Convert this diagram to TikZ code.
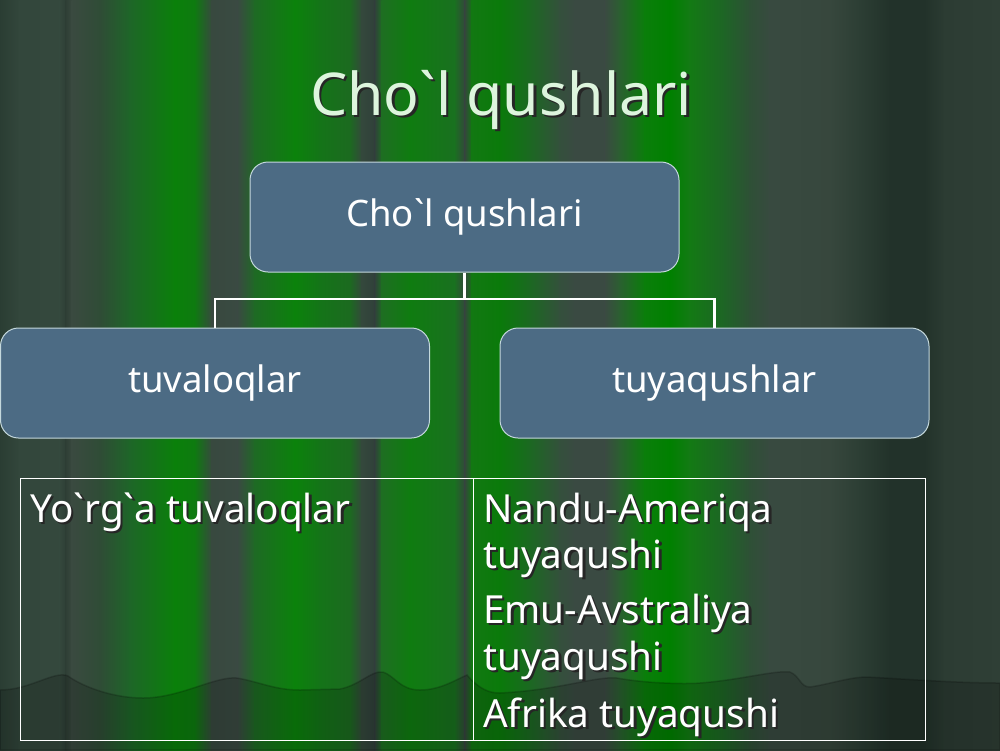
\documentclass[tikz,border=0pt]{standalone}
\usepackage{fontspec}
\setmainfont{Noto Sans}[Ligatures=TeXOff]
\usetikzlibrary{calc}
\definecolor{boxfill}{HTML}{4C6B84}
\definecolor{boxline}{HTML}{C4D8DC}
\definecolor{titlecol}{HTML}{DDF5DD}
\newcommand{\shadowed}[2]{\makebox[0pt][l]{\raisebox{-2.5pt}{\hspace{2.5pt}\textcolor{black!85}{#2}}}\textcolor{#1}{#2}}
\tikzset{
  catbox/.style={draw=boxline, line width=1pt, fill=boxfill, rounded corners=18pt,
    minimum width=429pt, minimum height=110pt, text=white, inner sep=0pt,
    font=\fontsize{36.5}{44}\selectfont},
  conn/.style={draw=white, line width=2.5pt},
  cell/.style={draw=white, line width=1pt},
  celltext/.style={anchor=base west, inner sep=0pt, font=\fontsize{38.7}{46}\selectfont},
  titletext/.style={anchor=base, inner sep=0pt, font=\fontsize{59}{70}\selectfont}
}
\begin{document}
\begin{tikzpicture}[x=1pt,y=-1pt]
\useasboundingbox (0,0) rectangle (1000,750);
% background stripes
\def\stops{0/2A3D33,20/33473C,60/34483D,66/2E3E35,72/3A4A40,100/2F4C36,130/1E6628,175/0A800A,195/0E7A10,212/38493F,238/3A4A42,255/1E6A24,295/0B820B,320/147418,350/1C6A20,362/34483C,375/30403A,382/1E6E22,410/0F7C10,455/1A7020,465/34463C,472/127812,500/0A7A0A,528/1A6A20,560/34503C,575/3A4A42,605/3A4A42,620/2A6030,645/0A7E0A,670/008000,690/137A14,725/1E6426,750/2E5036,770/384A40,830/37473D,860/2C3E34,890/22322A,925/22322A,945/2C3C33,1000/2F3F36}
\foreach \xa/\ca [remember=\xa as \xp (initially 0), remember=\ca as \cp (initially 2A3D33)] in \stops {
  \definecolor{cL}{HTML}{\cp}\definecolor{cR}{HTML}{\ca}
  \ifdim\xa pt>\xp pt
    \shade[left color=cL, right color=cR] (\xp-0.5,0) rectangle (\xa+0.5,750);
  \fi
}
% curtain bottom wave
\path[fill=black, fill opacity=0.17, draw=black, draw opacity=0.18, line width=1.5pt]
  (0,690) .. controls (30,690) and (55,670) .. (68,676)
  .. controls (85,688) and (115,698) .. (143,698)
  .. controls (180,698) and (215,676) .. (237,678)
  .. controls (260,682) and (275,690) .. (300,690)
  -- (340,689)
  .. controls (360,685) and (372,670) .. (383,672)
  .. controls (395,676) and (400,690) .. (420,690)
  .. controls (440,690) and (455,680) .. (467,675)
  .. controls (480,690) and (490,693) .. (500,693)
  .. controls (560,690) and (595,676) .. (617,678)
  .. controls (650,684) and (690,684) .. (700,683)
  .. controls (740,680) and (775,670) .. (790,672)
  .. controls (800,676) and (800,687) .. (810,687)
  .. controls (830,684) and (850,677) .. (867,677)
  .. controls (920,680) and (960,683) .. (1000,683)
  -- (1000,750) -- (0,750) -- cycle;
% title
\node[titletext] (title) at (501,115) {\shadowed{titlecol}{Cho`l qushlari}};
% boxes
\node[catbox] (root) at (464.5,217) {\raisebox{-3pt}{Cho`l qushlari}};
\node[catbox] (left) at (215,383) {\raisebox{-3pt}{tuvaloqlar}};
\node[catbox] (right) at (714.5,383) {\raisebox{-3pt}{tuyaqushlar}};
% connectors
\coordinate (mid) at (464.5,299);
\draw[conn] (root.south) -- (mid);
\draw[conn] (left.north) |- (mid) -| (right.north);
% table
\coordinate (tl) at (20,478);
\coordinate (tm) at (473,478);
\coordinate (br) at (925,740);
\draw[cell] (tl) rectangle (br);
\draw[cell] (tm) -- (473,740);
\node[celltext] (c1) at (30,522) {\shadowed{white}{Yo`rg`a tuvaloqlar}};
\node[celltext] (r1) at (483,522) {\shadowed{white}{Nandu-Ameriqa}};
\node[celltext] (r2) at (483,568) {\shadowed{white}{tuyaqushi}};
\node[celltext] (r3) at (483,623) {\shadowed{white}{Emu-Avstraliya}};
\node[celltext] (r4) at (483,670) {\shadowed{white}{tuyaqushi}};
\node[celltext] (r5) at (483,727) {\shadowed{white}{Afrika tuyaqushi}};
\end{tikzpicture}
\end{document}
